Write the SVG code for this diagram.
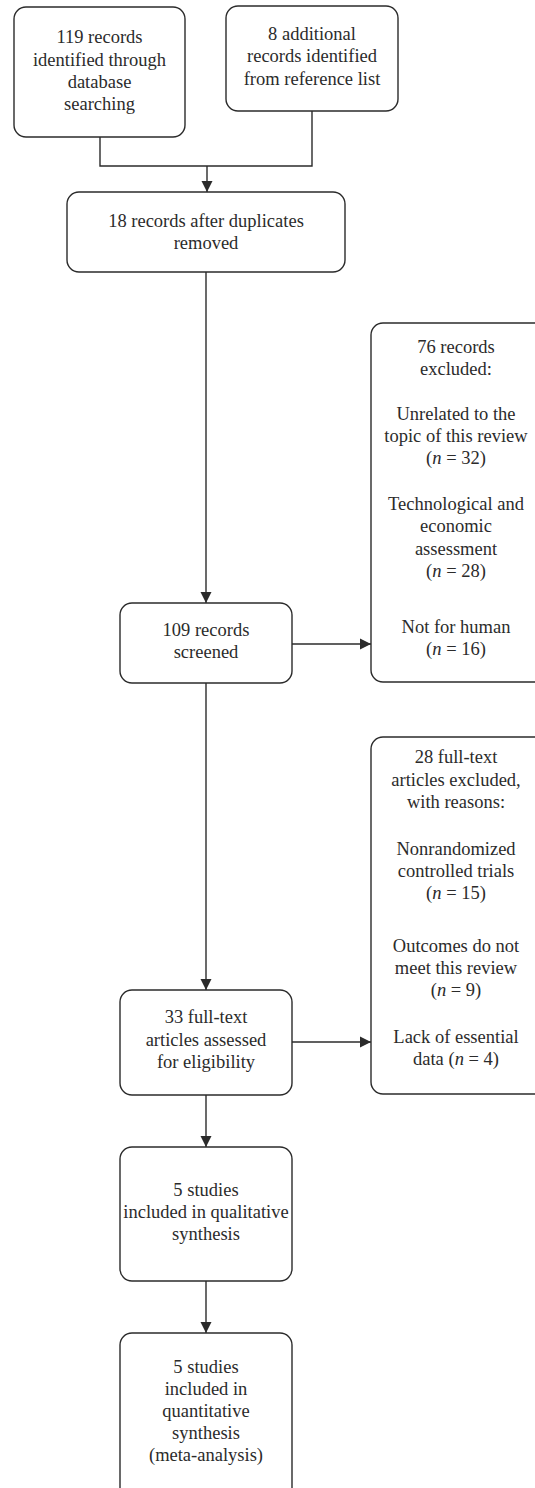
<svg xmlns="http://www.w3.org/2000/svg" width="535" height="1488" viewBox="0 0 535 1488">
<style>
.box{fill:#fff;stroke:#2b2b2b;stroke-width:1.4}
.ln{fill:none;stroke:#2b2b2b;stroke-width:1.4}
text{font-family:"Liberation Serif","Times New Roman",serif;font-size:18.5px;fill:#2b2b2b;text-anchor:middle}
.i{font-style:italic}
</style>
<defs>
<marker id="ah" markerUnits="userSpaceOnUse" markerWidth="12" markerHeight="12" viewBox="0 0 12 12" refX="11" refY="6" orient="auto">
<path d="M0,0.5 L11,6 L0,11.5 Z" fill="#2b2b2b"/>
</marker>
</defs>
<rect width="535" height="1488" fill="#fff"/>
<g id="connectors">
<polyline class="ln" points="100,137 100,166 312,166 312,111"/>
<line class="ln" x1="207" y1="166" x2="207" y2="192" marker-end="url(#ah)"/>
<line class="ln" x1="206" y1="272" x2="206" y2="603" marker-end="url(#ah)"/>
<line class="ln" x1="292" y1="644" x2="371" y2="644" marker-end="url(#ah)"/>
<line class="ln" x1="206" y1="683" x2="206" y2="990" marker-end="url(#ah)"/>
<line class="ln" x1="292" y1="1042" x2="371" y2="1042" marker-end="url(#ah)"/>
<line class="ln" x1="206" y1="1095" x2="206" y2="1147" marker-end="url(#ah)"/>
<line class="ln" x1="206" y1="1281" x2="206" y2="1333" marker-end="url(#ah)"/>
</g>
<g id="n1">
<rect class="box" x="14" y="7" width="171" height="130" rx="12"/>
<text x="99.5" y="43">119 records</text>
<text x="99.5" y="66">identified through</text>
<text x="99.5" y="88">database</text>
<text x="99.5" y="110">searching</text>
</g>
<g id="n2">
<rect class="box" x="226" y="6" width="172" height="105" rx="12"/>
<text x="312" y="40">8 additional</text>
<text x="312" y="62">records identified</text>
<text x="312" y="85">from reference list</text>
</g>
<g id="n3">
<rect class="box" x="67" y="192" width="278" height="80" rx="12"/>
<text x="206" y="227">18 records after duplicates</text>
<text x="206" y="249">removed</text>
</g>
<g id="n4">
<rect class="box" x="371" y="323" width="175" height="359" rx="12"/>
<text x="456" y="353">76 records</text>
<text x="456" y="375">excluded:</text>
<text x="456" y="420">Unrelated to the</text>
<text x="456" y="442">topic of this review</text>
<text x="456" y="464">(<tspan class="i">n</tspan> = 32)</text>
<text x="456" y="510">Technological and</text>
<text x="456" y="532">economic</text>
<text x="456" y="555">assessment</text>
<text x="456" y="577">(<tspan class="i">n</tspan> = 28)</text>
<text x="456" y="633">Not for human</text>
<text x="456" y="655">(<tspan class="i">n</tspan> = 16)</text>
</g>
<g id="n5">
<rect class="box" x="120" y="603" width="172" height="80" rx="12"/>
<text x="206" y="636">109 records</text>
<text x="206" y="658">screened</text>
</g>
<g id="n6">
<rect class="box" x="371" y="737" width="175" height="357" rx="12"/>
<text x="456" y="763">28 full-text</text>
<text x="456" y="786">articles excluded,</text>
<text x="456" y="808">with reasons:</text>
<text x="456" y="855">Nonrandomized</text>
<text x="456" y="877">controlled trials</text>
<text x="456" y="899">(<tspan class="i">n</tspan> = 15)</text>
<text x="456" y="952">Outcomes do not</text>
<text x="456" y="974">meet this review</text>
<text x="456" y="996">(<tspan class="i">n</tspan> = 9)</text>
<text x="456" y="1043">Lack of essential</text>
<text x="456" y="1065">data (<tspan class="i">n</tspan> = 4)</text>
</g>
<g id="n7">
<rect class="box" x="120" y="990" width="172" height="105" rx="12"/>
<text x="206" y="1023">33 full-text</text>
<text x="206" y="1046">articles assessed</text>
<text x="206" y="1068">for eligibility</text>
</g>
<g id="n8">
<rect class="box" x="120" y="1147" width="172" height="134" rx="12"/>
<text x="206" y="1196">5 studies</text>
<text x="206" y="1218">included in qualitative</text>
<text x="206" y="1240">synthesis</text>
</g>
<g id="n9">
<rect class="box" x="120" y="1333" width="172" height="170" rx="12"/>
<text x="206" y="1373">5 studies</text>
<text x="206" y="1395">included in</text>
<text x="206" y="1417">quantitative</text>
<text x="206" y="1439">synthesis</text>
<text x="206" y="1461">(meta-analysis)</text>
</g>
</svg>
